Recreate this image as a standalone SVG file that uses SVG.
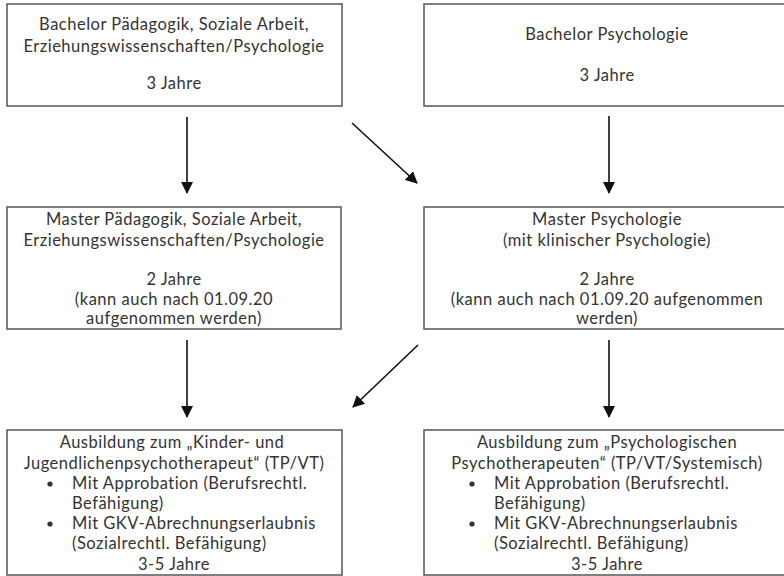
<svg xmlns="http://www.w3.org/2000/svg" width="784" height="576" viewBox="0 0 784 576">
<defs>
<style>
.box{fill:#fff;stroke:#555;stroke-width:1.5}
.t{font-family:Lato,"Open Sans","Liberation Sans",sans-serif;font-size:16.5px;letter-spacing:0.5px;fill:#333}
.c{text-anchor:middle}
.ln{stroke:#111;stroke-width:1.6;fill:none}
</style>
<marker id="ah" viewBox="0 0 12 12" refX="11" refY="6" markerWidth="12" markerHeight="12" markerUnits="userSpaceOnUse" orient="auto">
<path d="M0,0 L12,6 L0,12 Z" fill="#111"/>
</marker>
</defs>
<rect width="784" height="576" fill="#fff"/>
<g id="n1">
<rect class="box" x="7" y="4" width="335" height="102"/>
<text class="t c" x="174" y="30">Bachelor Pädagogik, Soziale Arbeit,</text>
<text class="t c" x="174" y="52">Erziehungswissenschaften/Psychologie</text>
<text class="t c" x="174" y="89">3 Jahre</text>
</g>
<g id="n2">
<rect class="box" x="424" y="4" width="370" height="102"/>
<text class="t c" x="607" y="40">Bachelor Psychologie</text>
<text class="t c" x="607" y="81">3 Jahre</text>
</g>
<g id="n3">
<rect class="box" x="7" y="207" width="334" height="122"/>
<text class="t c" x="174" y="225">Master Pädagogik, Soziale Arbeit,</text>
<text class="t c" x="174" y="246">Erziehungswissenschaften/Psychologie</text>
<text class="t c" x="174" y="285">2 Jahre</text>
<text class="t c" x="174" y="305">(kann auch nach 01.09.20</text>
<text class="t c" x="174" y="324">aufgenommen werden)</text>
</g>
<g id="n4">
<rect class="box" x="424" y="207" width="370" height="122"/>
<text class="t c" x="607" y="225">Master Psychologie</text>
<text class="t c" x="607" y="246">(mit klinischer Psychologie)</text>
<text class="t c" x="607" y="285">2 Jahre</text>
<text class="t c" x="607" y="305">(kann auch nach 01.09.20 aufgenommen</text>
<text class="t c" x="607" y="324">werden)</text>
</g>
<g id="n5">
<rect class="box" x="7" y="430" width="335" height="145"/>
<text class="t c" x="172" y="448">Ausbildung zum „Kinder- und</text>
<text class="t c" x="174" y="469">Jugendlichenpsychotherapeut“ (TP/VT)</text>
<circle cx="50" cy="484" r="2.6" fill="#333"/>
<text class="t" x="72" y="489">Mit Approbation (Berufsrechtl.</text>
<text class="t" x="72" y="509">Befähigung)</text>
<circle cx="50" cy="524" r="2.6" fill="#333"/>
<text class="t" x="72" y="529">Mit GKV-Abrechnungserlaubnis</text>
<text class="t" x="72" y="549">(Sozialrechtl. Befähigung)</text>
<text class="t c" x="174" y="570">3-5 Jahre</text>
</g>
<g id="n6">
<rect class="box" x="424" y="430" width="370" height="145"/>
<text class="t c" x="607" y="448">Ausbildung zum „Psychologischen</text>
<text class="t c" x="607" y="469">Psychotherapeuten“ (TP/VT/Systemisch)</text>
<circle cx="472" cy="484" r="2.6" fill="#333"/>
<text class="t" x="494" y="489">Mit Approbation (Berufsrechtl.</text>
<text class="t" x="494" y="509">Befähigung)</text>
<circle cx="472" cy="524" r="2.6" fill="#333"/>
<text class="t" x="494" y="529">Mit GKV-Abrechnungserlaubnis</text>
<text class="t" x="494" y="549">(Sozialrechtl. Befähigung)</text>
<text class="t c" x="607" y="570">3-5 Jahre</text>
</g>
<g id="connectors">
<line class="ln" x1="187" y1="117" x2="187" y2="193" marker-end="url(#ah)"/>
<line class="ln" x1="352" y1="123" x2="417" y2="183" marker-end="url(#ah)"/>
<line class="ln" x1="609" y1="116" x2="609" y2="193" marker-end="url(#ah)"/>
<line class="ln" x1="187" y1="340" x2="187" y2="417" marker-end="url(#ah)"/>
<line class="ln" x1="418" y1="345" x2="353" y2="407" marker-end="url(#ah)"/>
<line class="ln" x1="609" y1="340" x2="609" y2="417" marker-end="url(#ah)"/>
</g>
</svg>
